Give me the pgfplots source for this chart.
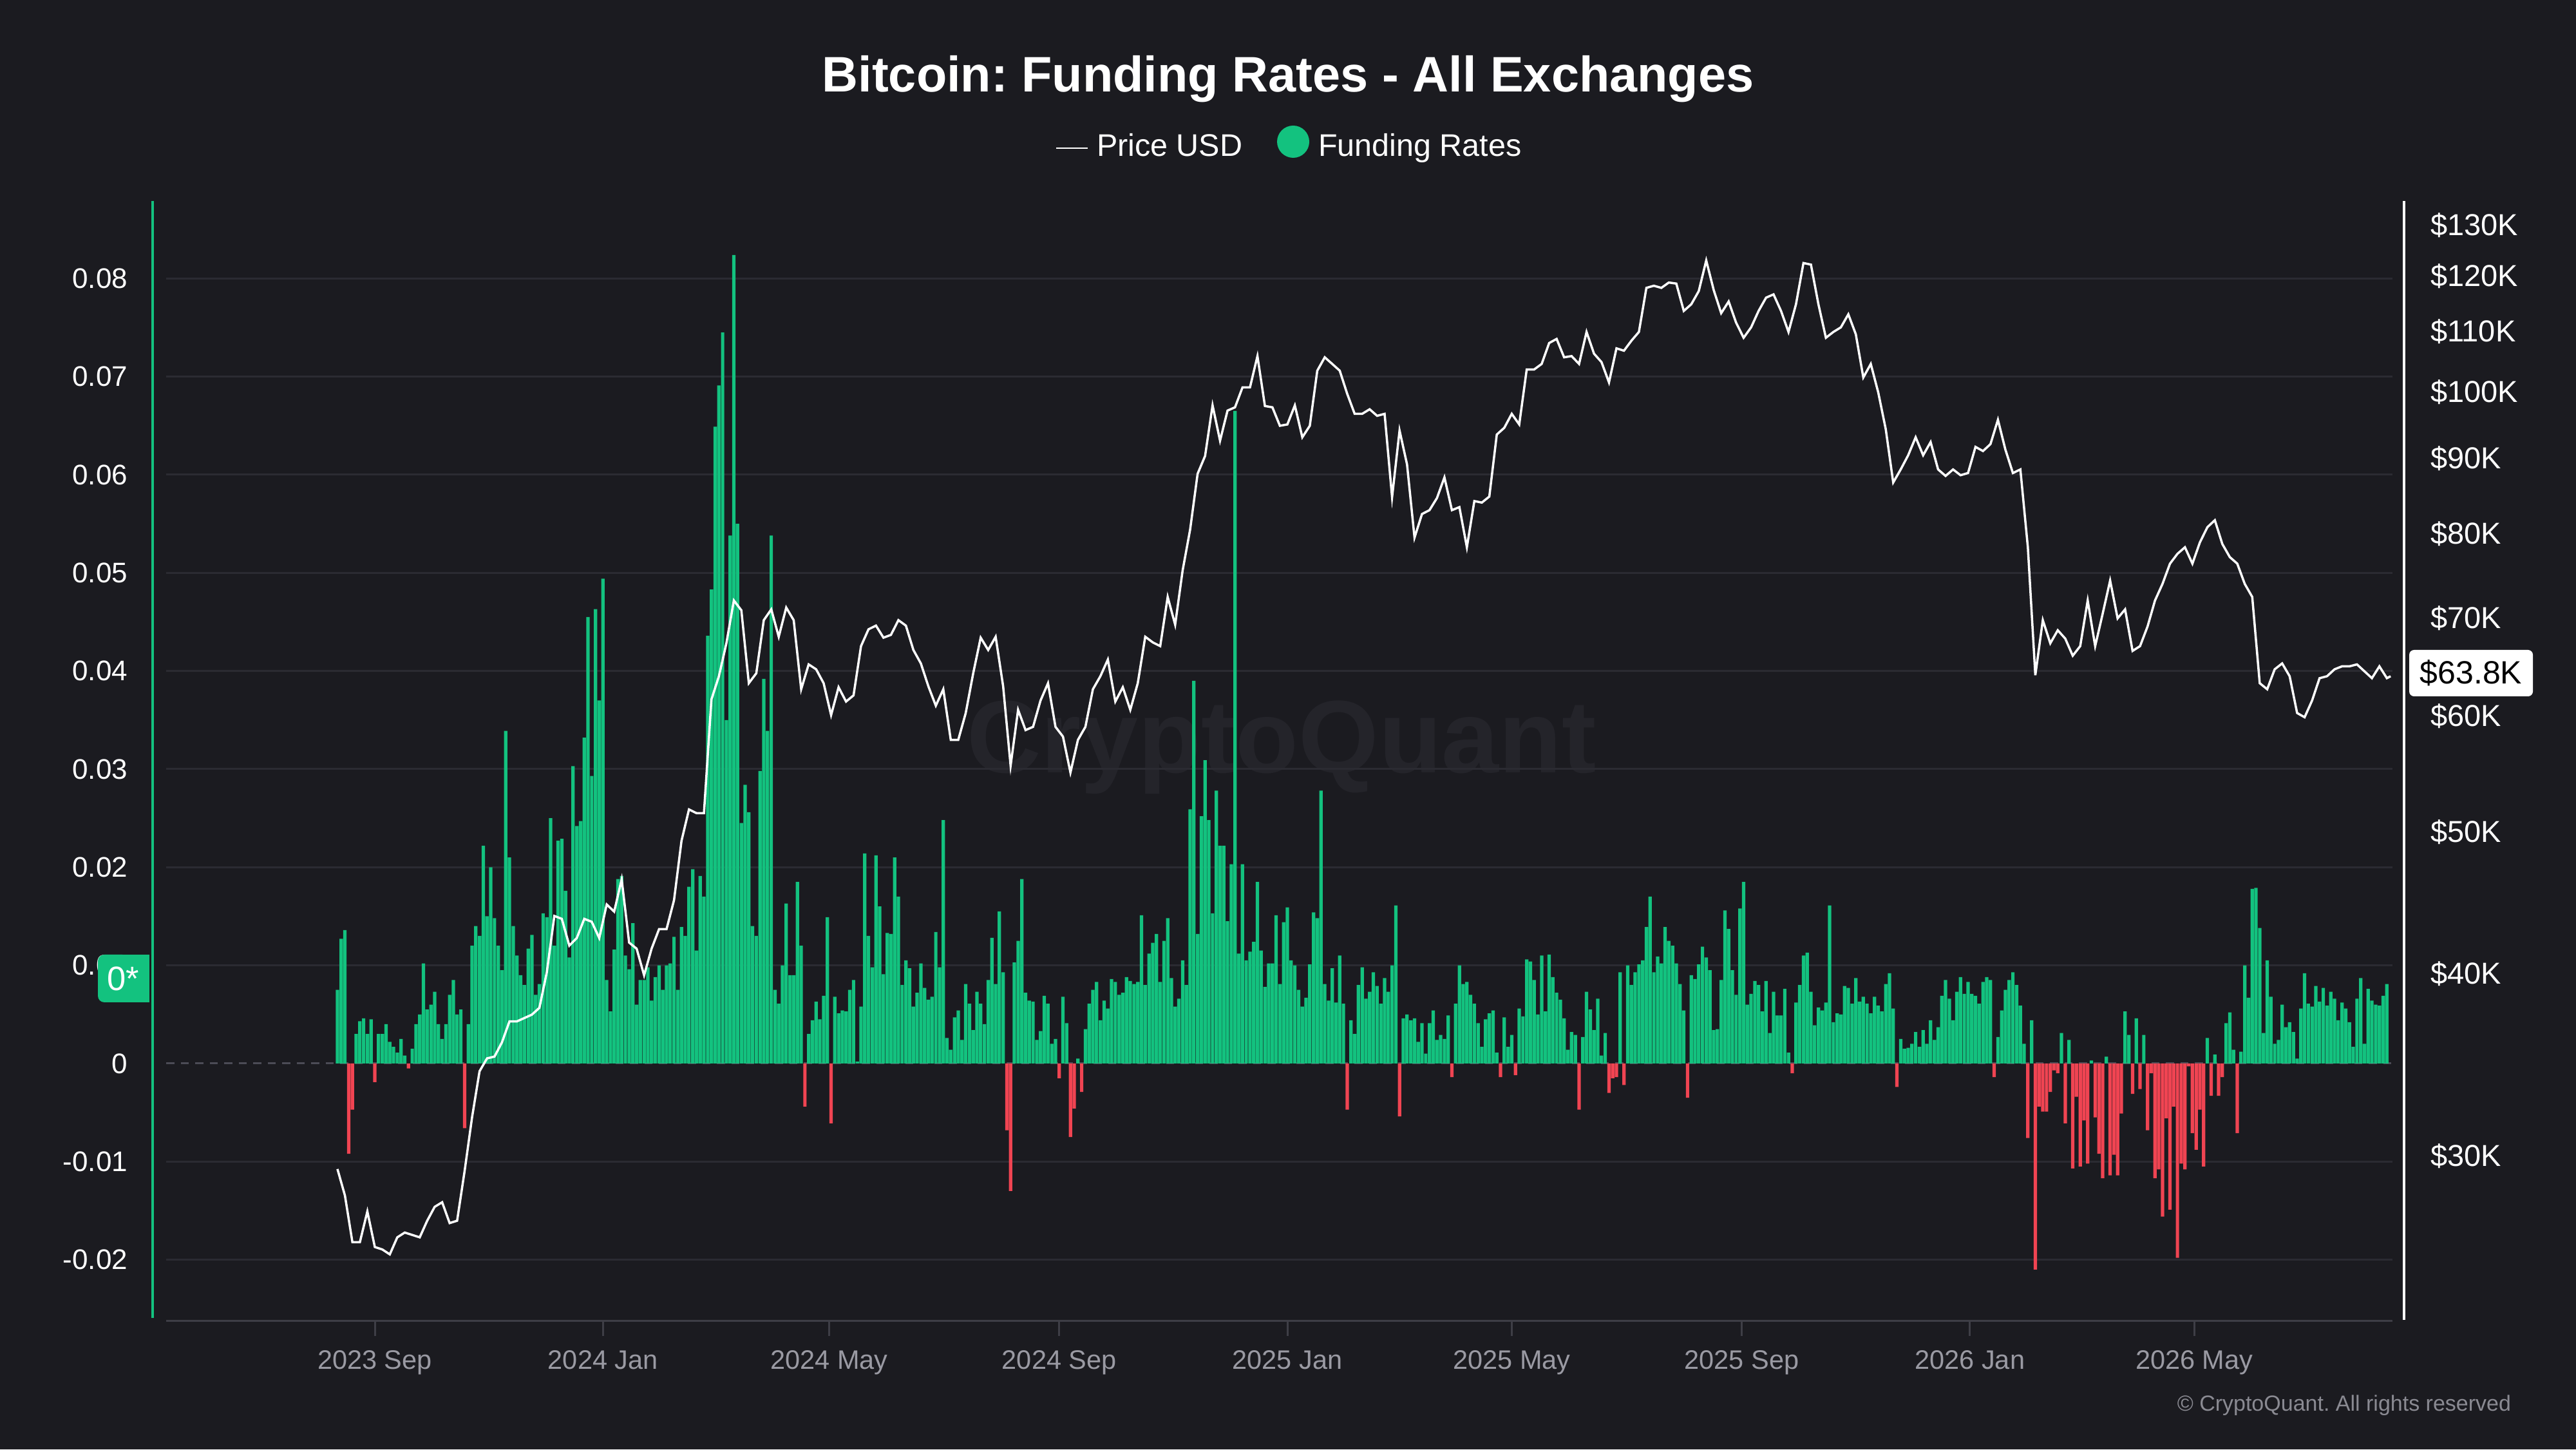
\documentclass[border=0pt]{standalone}
\usepackage{pgfplots}
\usepackage{pgfplotstable}
\pgfplotsset{compat=1.18}
\usepackage{fontspec}
\setmainfont{Liberation Sans}
\frenchspacing
\definecolor{bg}{HTML}{1B1B20}
\definecolor{fgreen}{HTML}{13C27F}
\definecolor{fred}{HTML}{F04452}
\definecolor{gridc}{HTML}{2B2B32}
\definecolor{axisc}{HTML}{3E3E46}
\definecolor{ticklab}{HTML}{9A9AA3}
\definecolor{zeroc}{HTML}{4C4C56}
\definecolor{wmark}{HTML}{24242A}
\definecolor{copyc}{HTML}{8A8A92}

\pgfplotstableread{
d f
-20 0.0075
-18 0.0127
-16 0.0136
-14 -0.0092
-12 -0.0047
-10 0.0030
-8 0.0043
-6 0.0046
-4 0.0030
-2 0.0045
0 -0.0019
2 0.0030
4 0.0030
6 0.0040
8 0.0022
10 0.0017
12 0.0011
14 0.0025
16 0.0008
18 -0.0005
20 0.0015
22 0.0040
24 0.0050
26 0.0102
28 0.0055
30 0.0060
32 0.0073
34 0.0040
36 0.0025
38 0.0040
40 0.0070
42 0.0085
44 0.0050
46 0.0055
48 -0.0066
50 0.0040
52 0.0120
54 0.0140
56 0.0130
58 0.0222
60 0.0150
62 0.0200
64 0.0148
66 0.0120
68 0.0095
70 0.0339
72 0.0210
74 0.0140
76 0.0110
78 0.0090
80 0.0080
82 0.0117
84 0.0131
86 0.0070
88 0.0081
90 0.0153
92 0.0149
94 0.0250
96 0.0120
98 0.0227
100 0.0229
102 0.0176
104 0.0108
106 0.0303
108 0.0242
110 0.0247
112 0.0332
114 0.0455
116 0.0293
118 0.0463
120 0.0370
122 0.0494
124 0.0085
126 0.0053
128 0.0116
130 0.0188
132 0.0191
134 0.0110
136 0.0096
138 0.0143
140 0.0060
142 0.0085
144 0.0085
146 0.0098
148 0.0064
150 0.0088
152 0.0100
154 0.0075
156 0.0100
158 0.0102
160 0.0129
162 0.0075
164 0.0139
166 0.0130
168 0.0180
170 0.0198
172 0.0115
174 0.0191
176 0.0170
178 0.0436
180 0.0483
182 0.0649
184 0.0691
186 0.0745
188 0.0350
190 0.0538
192 0.0824
194 0.0550
196 0.0245
198 0.0284
200 0.0256
202 0.0140
204 0.0130
206 0.0298
208 0.0392
210 0.0339
212 0.0538
214 0.0075
216 0.0061
218 0.0100
220 0.0163
222 0.0090
224 0.0090
226 0.0185
228 0.0120
230 -0.0044
232 0.0030
234 0.0044
236 0.0063
238 0.0045
240 0.0069
242 0.0149
244 -0.0061
246 0.0068
248 0.0051
250 0.0054
252 0.0053
254 0.0075
256 0.0085
258 0.0002
260 0.0058
262 0.0214
264 0.0130
266 0.0098
268 0.0212
270 0.0160
272 0.0091
274 0.0133
276 0.0132
278 0.0210
280 0.0170
282 0.0080
284 0.0105
286 0.0097
288 0.0058
290 0.0072
292 0.0102
294 0.0077
296 0.0065
298 0.0068
300 0.0134
302 0.0098
304 0.0248
306 0.0026
308 0.0014
310 0.0047
312 0.0054
314 0.0024
316 0.0081
318 0.0061
320 0.0034
322 0.0073
324 0.0061
326 0.0040
328 0.0085
330 0.0128
332 0.0081
334 0.0155
336 0.0093
338 -0.0068
340 -0.0130
342 0.0103
344 0.0125
346 0.0188
348 0.0072
350 0.0064
352 0.0063
354 0.0024
356 0.0033
358 0.0069
360 0.0061
362 0.0020
364 0.0025
366 -0.0015
368 0.0068
370 0.0041
372 -0.0075
374 -0.0046
376 0.0005
378 -0.0029
380 0.0035
382 0.0061
384 0.0075
386 0.0083
388 0.0044
390 0.0064
392 0.0056
394 0.0086
396 0.0083
398 0.0070
400 0.0072
402 0.0088
404 0.0084
406 0.0081
408 0.0083
410 0.0151
412 0.0080
414 0.0112
416 0.0123
418 0.0132
420 0.0083
422 0.0125
424 0.0148
426 0.0087
428 0.0058
430 0.0066
432 0.0105
434 0.0080
436 0.0259
438 0.0390
440 0.0132
442 0.0252
444 0.0309
446 0.0248
448 0.0153
450 0.0278
452 0.0222
454 0.0222
456 0.0145
458 0.0203
460 0.0665
462 0.0112
464 0.0203
466 0.0105
468 0.0114
470 0.0124
472 0.0185
474 0.0115
476 0.0078
478 0.0102
480 0.0102
482 0.0151
484 0.0081
486 0.0144
488 0.0159
490 0.0105
492 0.0100
494 0.0075
496 0.0058
498 0.0067
500 0.0101
502 0.0154
504 0.0148
506 0.0278
508 0.0081
510 0.0064
512 0.0097
514 0.0062
516 0.0110
518 0.0061
520 -0.0047
522 0.0044
524 0.0030
526 0.0080
528 0.0098
530 0.0066
532 0.0073
534 0.0093
536 0.0079
538 0.0061
540 0.0087
542 0.0073
544 0.0100
546 0.0161
548 -0.0054
550 0.0046
552 0.0050
554 0.0044
556 0.0046
558 0.0022
560 0.0041
562 0.0010
564 0.0041
566 0.0054
568 0.0024
570 0.0029
572 0.0025
574 0.0049
576 -0.0014
578 0.0061
580 0.0100
582 0.0081
584 0.0083
586 0.0070
588 0.0061
590 0.0041
592 0.0017
594 0.0045
596 0.0051
598 0.0054
600 0.0011
602 -0.0014
604 0.0047
606 0.0017
608 0.0029
610 -0.0012
612 0.0056
614 0.0048
616 0.0106
618 0.0104
620 0.0085
622 0.0050
624 0.0110
626 0.0053
628 0.0111
630 0.0088
632 0.0072
634 0.0065
636 0.0046
638 0.0014
640 0.0032
642 0.0029
644 -0.0047
646 0.0027
648 0.0073
650 0.0055
652 0.0034
654 0.0066
656 0.0008
658 0.0031
660 -0.0030
662 -0.0015
664 -0.0014
666 0.0093
668 -0.0022
670 0.0100
672 0.0080
674 0.0093
676 0.0101
678 0.0105
680 0.0139
682 0.0170
684 0.0093
686 0.0109
688 0.0102
690 0.0139
692 0.0125
694 0.0120
696 0.0102
698 0.0081
700 0.0054
702 -0.0035
704 0.0090
706 0.0086
708 0.0101
710 0.0119
712 0.0108
714 0.0095
716 0.0034
718 0.0035
720 0.0085
722 0.0156
724 0.0137
726 0.0095
728 0.0070
730 0.0158
732 0.0185
734 0.0060
736 0.0071
738 0.0084
740 0.0080
742 0.0053
744 0.0084
746 0.0031
748 0.0073
750 0.0049
752 0.0049
754 0.0076
756 0.0011
758 -0.0010
760 0.0062
762 0.0080
764 0.0110
766 0.0113
768 0.0073
770 0.0039
772 0.0057
774 0.0054
776 0.0062
778 0.0161
780 0.0042
782 0.0051
784 0.0050
786 0.0079
788 0.0077
790 0.0061
792 0.0087
794 0.0063
796 0.0068
798 0.0061
800 0.0051
802 0.0068
804 0.0059
806 0.0053
808 0.0081
810 0.0092
812 0.0056
814 -0.0024
816 0.0025
818 0.0015
820 0.0016
822 0.0020
824 0.0032
826 0.0017
828 0.0034
830 0.0020
832 0.0044
834 0.0024
836 0.0037
838 0.0069
840 0.0085
842 0.0066
844 0.0044
846 0.0073
848 0.0088
850 0.0071
852 0.0083
854 0.0071
856 0.0069
858 0.0061
860 0.0083
862 0.0088
864 0.0085
866 -0.0014
868 0.0027
870 0.0054
872 0.0075
874 0.0085
876 0.0093
878 0.0080
880 0.0059
882 0.0020
884 -0.0076
886 0.0044
888 -0.0210
890 -0.0044
892 -0.0049
894 -0.0049
896 -0.0029
898 -0.0007
900 -0.0010
902 0.0031
904 -0.0061
906 0.0024
908 -0.0107
910 -0.0034
912 -0.0105
914 -0.0058
916 -0.0102
918 0.0003
920 -0.0055
922 -0.0092
924 -0.0117
926 0.0007
928 -0.0114
930 -0.0093
932 -0.0114
934 -0.0051
936 0.0053
938 0.0029
940 -0.0031
942 0.0046
944 -0.0026
946 0.0029
948 -0.0068
950 -0.0010
952 -0.0117
954 -0.0108
956 -0.0156
958 -0.0056
960 -0.0149
962 -0.0044
964 -0.0198
966 -0.0102
968 -0.0108
970 -0.0003
972 -0.0071
974 -0.0088
976 -0.0047
978 -0.0105
980 0.0026
982 -0.0033
984 0.0009
986 -0.0033
988 -0.0014
990 0.0041
992 0.0052
994 0.0014
996 -0.0071
998 0.0012
1000 0.0100
1002 0.0067
1004 0.0178
1006 0.0179
1008 0.0138
1010 0.0031
1012 0.0105
1014 0.0068
1016 0.0020
1018 0.0024
1020 0.0060
1022 0.0037
1024 0.0042
1026 0.0032
1028 0.0005
1030 0.0056
1032 0.0092
1034 0.0061
1036 0.0058
1038 0.0079
1040 0.0063
1042 0.0077
1044 0.0059
1046 0.0073
1048 0.0066
1050 0.0044
1052 0.0062
1054 0.0056
1056 0.0042
1058 0.0017
1060 0.0066
1062 0.0087
1064 0.0020
1066 0.0076
1068 0.0064
1070 0.0060
1072 0.0059
1074 0.0069
1076 0.0081
}\fundtab

\pgfplotstableread{
d p
-20 29400
-16 28200
-12 26200
-8 26200
-4 27500
0 26000
4 25900
8 25700
12 26400
16 26600
20 26500
24 26400
28 27100
32 27700
36 27900
40 27000
44 27100
48 29300
52 31900
56 34300
60 35000
64 35100
68 35900
72 37100
76 37100
80 37300
84 37500
88 37900
92 40100
96 43800
100 43600
104 41800
108 42300
112 43600
116 43400
120 42300
124 44600
128 44100
132 46400
136 42000
140 41600
144 39900
148 41600
152 42900
156 42900
160 44900
164 49300
168 51800
172 51500
176 51500
180 61600
184 63900
188 67300
192 72000
196 70900
200 63200
204 64200
208 69800
212 71000
216 68000
220 71200
224 69800
228 62600
232 65100
236 64600
240 63200
244 60100
248 62800
252 61400
256 62000
260 67000
264 68800
268 69200
272 67900
276 68200
280 69800
284 69200
288 66600
292 65200
296 62900
300 61000
304 62600
308 57800
312 57800
316 60300
320 64200
324 67900
328 66600
332 68000
336 62900
340 55500
344 60600
348 58700
352 59000
356 61500
360 63200
364 59000
368 58100
372 54900
376 57800
380 59000
384 62600
388 63900
392 65600
396 61400
400 62800
404 60600
408 63200
412 68000
416 67400
420 67000
424 72400
428 69300
432 75500
436 80500
440 87900
444 90400
448 97900
452 92600
456 97100
460 97600
464 100700
468 100700
472 105800
476 97800
480 97600
484 94800
488 95000
492 97900
496 93100
500 94800
504 103400
508 105600
512 104500
516 103400
520 99700
524 96600
528 96600
532 97300
536 96300
540 96600
544 84700
548 94100
552 89200
556 79500
560 82500
564 83000
568 84600
572 87400
576 83000
580 83400
584 78300
588 84200
592 84000
596 84800
600 93500
604 94500
608 96600
612 95000
616 103600
620 103600
624 104500
628 108000
632 108700
636 105600
640 105800
644 104500
648 109900
652 106200
656 104800
660 101500
664 107100
668 106700
672 108400
676 109900
680 117800
684 118200
688 117800
692 118800
696 118600
700 113600
704 114800
708 117200
712 123000
716 117400
720 113200
724 115300
728 111500
732 108900
736 110700
740 113600
744 116000
748 116600
752 113600
756 109900
760 114800
764 122500
768 122200
772 114800
776 108900
780 109900
784 110700
788 113000
792 109500
796 102300
800 104500
804 99900
808 94300
812 86700
816 88500
820 90500
824 93100
828 90500
832 92400
836 88500
840 87600
844 88500
848 87700
852 88000
856 91700
860 91100
864 92100
868 95700
872 91300
876 88000
880 88500
884 78300
888 64000
892 69800
896 67300
900 68700
904 67800
908 66000
912 67000
916 72000
920 67000
924 70500
928 74300
932 70000
936 71000
940 66500
944 67000
948 69100
952 72000
956 73900
960 76300
964 77500
968 78300
972 76300
976 78900
980 80800
984 81700
988 78700
992 77100
996 76300
1000 73900
1004 72400
1008 63200
1012 62600
1016 64600
1020 65200
1024 63900
1028 60300
1032 59900
1036 61500
1040 63700
1044 63900
1048 64600
1052 64900
1056 64900
1060 65100
1064 64400
1068 63700
1072 64900
1076 63700
1078 63900
}\pricetab

\begin{document}
\begin{tikzpicture}
\useasboundingbox (0,0) rectangle (800pt,450pt);
\fill[bg] (0,0) rectangle (800pt,450pt);
\node[font=\fontsize{32}{36}\selectfont\bfseries, text=wmark] at (398pt,218pt) {CryptoQuant};
\node[font=\fontsize{15.5}{18}\selectfont\bfseries, text=white, anchor=base, inner sep=0pt] at (400pt,421.4pt) {Bitcoin: Funding Rates - All Exchanges};
\draw[white, line width=0.5pt] (328pt,404pt) -- (337.8pt,404pt);
\node[font=\fontsize{9.7}{11}\selectfont, text=white, anchor=base west, inner sep=0pt] at (340.4pt,401.4pt) {Price USD};
\fill[fgreen] (401.6pt,406pt) circle (5pt);
\node[font=\fontsize{9.7}{11}\selectfont, text=white, anchor=base west, inner sep=0pt] at (409.2pt,401.4pt) {Funding Rates};

\begin{axis}[
  at={(51.6pt,40pt)}, anchor=south west,
  width=691.4pt, height=347.6pt, scale only axis,
  xmin=-111.6, xmax=1079,
  ymin=-0.0262, ymax=0.0879,
  scaled y ticks=false, scaled x ticks=false,
  axis lines*=left,
  x axis line style={draw=axisc, line width=0.6pt, -},
  y axis line style={draw=none},
  tick align=outside,
  xtick={0,122,243,366,488,608,731,853,973},
  xticklabels={2023 Sep,2024 Jan,2024 May,2024 Sep,2025 Jan,2025 May,2025 Sep,2026 Jan,2026 May},
  x tick style={draw=axisc, line width=0.6pt},
  major tick length=4.8pt,
  x tick label style={font=\fontsize{8.3}{10}\selectfont, text=ticklab, anchor=north, inner sep=0pt, yshift=-4.4pt},
  ytick={-0.02,-0.01,0.01,0.02,0.03,0.04,0.05,0.06,0.07,0.08},
  yticklabels={-0.02,-0.01,0.01,0.02,0.03,0.04,0.05,0.06,0.07,0.08},
  extra y ticks={0}, extra y tick labels={0},
  extra y tick style={major grid style={draw=zeroc, dash pattern=on 2.5pt off 2pt, line width=0.6pt}},
  y tick style={draw=none},
  y tick label style={font=\fontsize{8.8}{10}\selectfont, text=white, anchor=east, inner sep=0pt, xshift=-7pt},
  ymajorgrids, major grid style={draw=gridc, line width=0.6pt},
]
\addplot[ybar, bar width=1.8, bar shift=0pt, fill=fgreen, draw=none, restrict y to domain=0:1] table[x=d,y=f]{\fundtab};
\addplot[ybar, bar width=1.8, bar shift=0pt, fill=fred, draw=none, restrict y to domain=-1:0] table[x=d,y=f]{\fundtab};
\end{axis}

\begin{axis}[
  at={(51.6pt,40pt)}, anchor=south west,
  width=691.4pt, height=347.6pt, scale only axis,
  xmin=-111.6, xmax=1079,
  ymode=log, ymin=23160, ymax=135100,
  axis x line=none, axis y line*=right, y axis line style={draw=none},
  ytick={30000,40000,50000,60000,70000,80000,90000,100000,110000,120000,130000},
  yticklabels={\$30K,\$40K,\$50K,\$60K,\$70K,\$80K,\$90K,\$100K,\$110K,\$120K,\$130K},
  y tick style={draw=none}, major tick length=0pt, yminorticks=false,
  y tick label style={font=\fontsize{9.4}{11}\selectfont, text=white, anchor=west, inner sep=0pt, xshift=11.6pt},
]
\addplot[white, line width=0.7pt] table[x=d,y=p]{\pricetab};
\end{axis}

\draw[fgreen, line width=0.9pt] (47.4pt,40.8pt) -- (47.4pt,387.6pt);
\draw[white, line width=0.9pt] (746.6pt,40.2pt) -- (746.6pt,387.6pt);
\fill[fgreen, rounded corners=2pt] (30.4pt,138.8pt) rectangle (40pt,153.6pt);
\fill[fgreen] (36pt,138.8pt) rectangle (46.4pt,153.6pt);
\node[inner sep=0pt, text=white, font=\fontsize{10.5}{12}\selectfont] at (38.3pt,146.2pt) {0*};
\node[fill=white, rounded corners=1.5pt, minimum width=38.4pt, minimum height=14.4pt, inner sep=0pt, text=black, font=\fontsize{10}{12}\selectfont] at (767.4pt,241pt) {\$63.8K};
\node[font=\fontsize{6.8}{8}\selectfont, text=copyc, anchor=base east, inner sep=0pt] at (780pt,12pt) {© CryptoQuant. All rights reserved};
\end{tikzpicture}
\end{document}
